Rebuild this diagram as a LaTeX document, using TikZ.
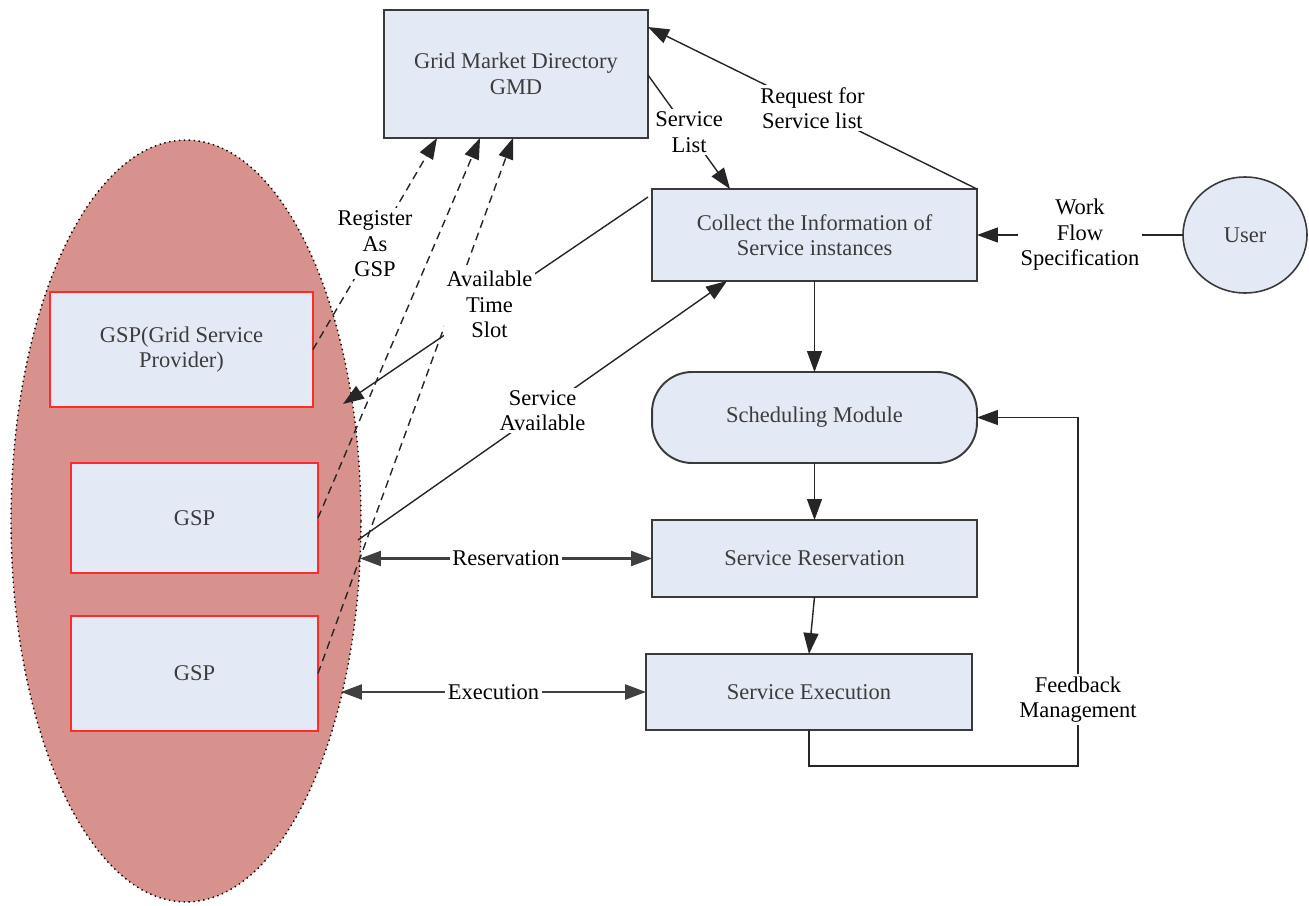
\documentclass[tikz,border=0pt]{standalone}
\usepackage{fontspec}
\setmainfont{Liberation Serif}
\newfontfamily\diagfont{Liberation Serif}
\usetikzlibrary{arrows.meta,calc,shapes.geometric}
\definecolor{boxfill}{HTML}{E4EAF5}
\definecolor{ellfill}{HTML}{D8928D}
\definecolor{boxline}{HTML}{3A3A3A}
\definecolor{txtgray}{HTML}{3C3C3C}
\definecolor{gspred}{HTML}{FF2A2A}
\begin{document}
\begin{tikzpicture}[x=0.02cm,y=-0.02cm,
  font=\diagfont\fontsize{12.8}{14.5}\selectfont,
  box/.style={draw=boxline, line width=1.1pt, fill=boxfill, text=txtgray, align=center, inner sep=0pt, outer sep=0pt},
  gspbox/.style={box, draw=gspred},
  arr/.style={-{Triangle[length=4.2mm,width=3mm]}, line width=0.8pt, draw=black!85},
  dbl/.style={{Triangle[length=4.2mm,width=3mm]}-{Triangle[length=4.2mm,width=3mm]}, line width=1.3pt, draw=black!75},
  dsh/.style={dash pattern=on 4.5pt off 3pt},
  lbl/.style={fill=white, align=center, inner sep=1.5pt, text=black}]
\useasboundingbox (0,0) rectangle (1309,906);
\fill[white] (0,0) rectangle (1309,906);
% provider ellipse
\fill[ellfill] (186,521) ellipse [x radius=3.5cm, y radius=7.62cm];
\draw[black, dotted, line width=0.8pt] (186,521) ellipse [x radius=3.5cm, y radius=7.62cm];
% nodes
\node[box, minimum width=5.28cm, minimum height=2.56cm] (gmd) at (516,74) {Grid Market Directory\\GMD};
\node[box, minimum width=6.5cm, minimum height=1.84cm] (collect) at (814.5,235) {Collect the Information of\\Service instances};
\node[box, rounded corners=0.8cm, minimum width=6.5cm, minimum height=1.82cm] (sched) at (814.5,417.5) {Scheduling Module};
\node[box, minimum width=6.5cm, minimum height=1.54cm] (resv) at (814.5,558.5) {Service Reservation};
\node[box, minimum width=6.52cm, minimum height=1.52cm] (exec) at (809,692) {Service Execution};
\node[box, ellipse, line width=0.9pt, minimum width=2.48cm, minimum height=2.32cm] (user) at (1245,235) {User};
\node[gspbox, minimum width=5.26cm, minimum height=2.3cm] (gsp1) at (181.5,349.5) {GSP(Grid Service\\Provider)};
\node[gspbox, minimum width=4.94cm, minimum height=2.2cm] (gsp2) at (194.5,518) {GSP};
\node[gspbox, minimum width=4.94cm, minimum height=2.3cm] (gsp3) at (194.5,673.5) {GSP};
% free ends
\coordinate (ats) at (343,404);
\coordinate (sa) at (358,540);
\coordinate (rl) at (360,558.5);
\coordinate (el) at (341,692);
\coordinate (fb) at (1078,766);
% dashed registrations
\draw[arr,dsh] (gsp1.east) -- node[lbl]{Register\\As\\GSP} ($(gmd.south west)+(53,0)$);
\draw[arr,dsh] (gsp2.east) -- ($(gmd.south west)+(96,0)$);
\draw[arr,dsh] (gsp3.east) -- ($(gmd.south west)+(129,0)$);
% solid connectors
\draw[arr] ($(collect.north west)+(-4,8)$) -- node[lbl,pos=0.52]{Available\\Time\\Slot} (ats);
\draw[arr] (sa) -- node[lbl]{Service\\Available} ($(collect.south west)+(75,0)$);
\draw[arr] (collect.north east) -- node[lbl]{Request for\\Service list} ($(gmd.north east)+(0,17)$);
\draw[arr] ($(gmd.north east)+(0,65)$) -- node[lbl]{Service\\List} ($(collect.north west)+(78,0)$);
\draw[arr] (user) -- node[lbl]{Work\\Flow\\Specification} (collect);
\draw[arr] (collect) -- (sched);
\draw[arr] (sched) -- (resv);
\draw[arr] (resv.south) -- (exec.north);
\draw[arr] (exec.south) |- (fb) -- node[lbl,pos=0.19]{Feedback\\Management} (fb |- sched.east) -- (sched.east);
\draw[dbl] (rl) -- node[lbl]{Reservation} (resv.west);
\draw[dbl] (el) -- node[lbl]{Execution} (exec.west);
\end{tikzpicture}
\end{document}
